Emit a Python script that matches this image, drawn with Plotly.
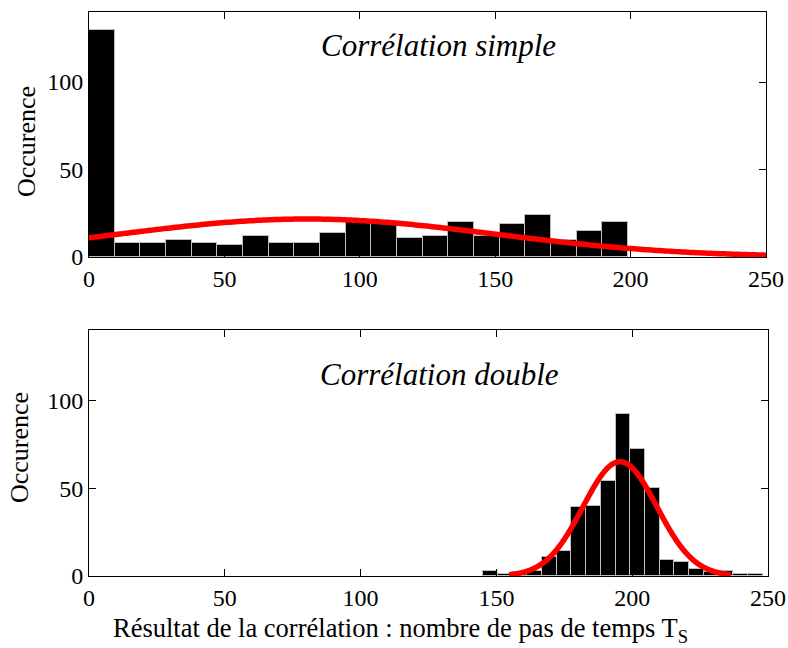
import numpy as np
import plotly.graph_objects as go

# ---- data ----
simple_bin_start = 0.0
simple_bin_width = 199.0 / 21
simple_counts = [130, 8, 8, 10, 8, 7, 12, 8, 8, 14, 20, 20, 11, 12, 20, 12, 19, 24, 10, 15, 20]
simple_fit_mean = 80.5
simple_fit_std = 69.0

double_bin_start = 145.1
double_bin_width = 5.42
double_counts = [3, 1, 2, 3, 11, 14, 39, 40, 54, 92, 72, 50, 9, 8, 4, 2, 3, 1, 1]
double_fit_mean = 195.5
double_fit_std = 13.6

x_ticks = [0, 50, 100, 150, 200, 250]
y_ticks = [0, 50, 100]

W, H = 788, 648
FONT = "Liberation Serif, Times New Roman, serif"


def px(x):
    return x / W


def py(y):
    return 1 - y / H


def centers(start, width, counts):
    return [start + width * (i + 0.5) for i in range(len(counts))]


def fit_curve(mean, std, counts, width):
    xs = np.linspace(mean - 3 * std, mean + 3 * std, 400)
    scale = sum(counts) * width
    ys = scale / (std * np.sqrt(2 * np.pi)) * np.exp(-0.5 * ((xs - mean) / std) ** 2)
    return xs.tolist(), ys.tolist()


fig = go.Figure()

for (start, width, counts, mean, std, xa, ya) in [
    (simple_bin_start, simple_bin_width, simple_counts, simple_fit_mean, simple_fit_std, "x", "y"),
    (double_bin_start, double_bin_width, double_counts, double_fit_mean, double_fit_std, "x2", "y2"),
]:
    fig.add_trace(go.Bar(
        x=centers(start, width, counts), y=counts, width=width,
        marker=dict(color="black", line=dict(color="#bdbdbd", width=1)),
        xaxis=xa, yaxis=ya, showlegend=False, hoverinfo="x+y",
    ))
    cx, cy = fit_curve(mean, std, counts, width)
    fig.add_trace(go.Scatter(
        x=cx, y=cy, mode="lines", line=dict(color="#ff0000", width=5.5, simplify=False),
        xaxis=xa, yaxis=ya, showlegend=False,
    ))

axis_common = dict(
    showline=True, linecolor="black", linewidth=1, mirror="ticks",
    ticks="inside", ticklen=7, tickwidth=1, tickcolor="black",
    showgrid=False, zeroline=False, automargin=False,
    tickfont=dict(family=FONT, size=24, color="black"),
)

fig.update_layout(
    width=W, height=H,
    font=dict(family=FONT, color="black"),
    margin=dict(l=0, r=0, t=0, b=0, autoexpand=False),
    paper_bgcolor="white", plot_bgcolor="white",
    bargap=0,
    xaxis=dict(domain=[px(89), px(766)], range=[0, 250], tickvals=x_ticks, anchor="y", **axis_common),
    yaxis=dict(domain=[py(257), py(12)], range=[0, 140], tickvals=y_ticks, anchor="x", **axis_common),
    xaxis2=dict(domain=[px(89), px(768)], range=[0, 250], tickvals=x_ticks, anchor="y2", **axis_common),
    yaxis2=dict(domain=[py(576), py(330)], range=[0, 140], tickvals=y_ticks, anchor="x2", **axis_common),
)

ann = []
ann.append(dict(text="<i>Corrélation simple</i>", x=px(438.7), y=py(46), xref="paper", yref="paper",
                showarrow=False, font=dict(family=FONT, size=31, color="black"), xanchor="center", yanchor="middle"))
ann.append(dict(text="<i>Corrélation double</i>", x=px(439), y=py(374), xref="paper", yref="paper",
                showarrow=False, font=dict(family=FONT, size=31, color="black"), xanchor="center", yanchor="middle"))
ann.append(dict(text="Occurence", x=px(27), y=py(142), xref="paper", yref="paper", textangle=-90,
                showarrow=False, font=dict(family=FONT, size=26, color="black"), xanchor="center", yanchor="middle"))
ann.append(dict(text="Occurence", x=px(19), y=py(448), xref="paper", yref="paper", textangle=-90,
                showarrow=False, font=dict(family=FONT, size=26, color="black"), xanchor="center", yanchor="middle"))
ann.append(dict(text="Résultat de la corrélation : nombre de pas de temps T<sub>S</sub>", x=px(400), y=py(630),
                xref="paper", yref="paper", showarrow=False,
                font=dict(family=FONT, size=26.5, color="black"), xanchor="center", yanchor="middle"))
fig.update_layout(annotations=ann)

# remove the default 8px page margin so the 788x648 figure fills the window exactly
fig.write_html("out.html", config={"displayModeBar": False},
               post_script="document.body.style.margin='0';document.body.style.overflow='hidden';")
